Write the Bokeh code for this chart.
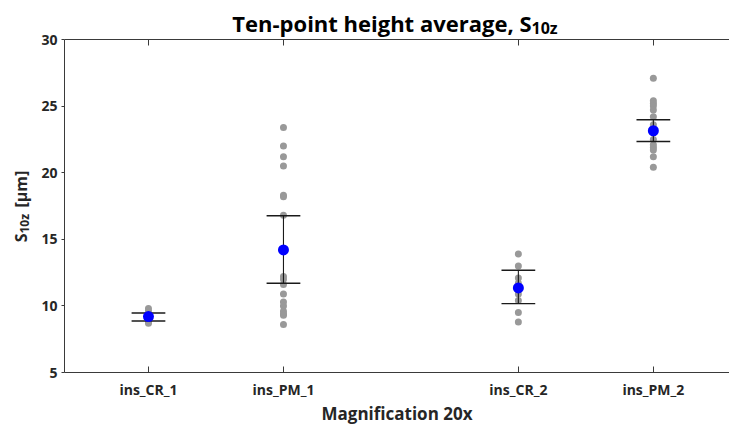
import math
from bokeh.plotting import figure
from bokeh.models import Range1d, FixedTicker, LinearAxis, Label
from bokeh.embed import file_html
from bokeh.resources import INLINE

categories = ["ins_CR_1", "ins_PM_1", "ins_CR_2", "ins_PM_2"]
cat_pos = [1.0, 2.0, 3.74, 4.74]

ins_CR_1 = [9.8, 9.6, 9.5, 9.4, 9.3, 9.2, 9.1, 9.0, 8.9, 8.8, 8.7]
ins_PM_1 = [23.4, 22.0, 21.2, 20.5, 18.3, 18.2, 16.8, 12.2, 12.0, 11.6, 10.9,
            10.3, 10.0, 9.6, 9.4, 9.3, 8.6]
ins_CR_2 = [13.9, 13.0, 12.1, 11.7, 11.2, 10.9, 10.4, 9.5, 8.8]
ins_PM_2 = [27.1, 25.4, 25.2, 25.0, 24.7, 24.2, 23.6, 23.0, 22.5, 22.1, 21.9,
            21.7, 21.2, 20.4]
groups = [ins_CR_1, ins_PM_1, ins_CR_2, ins_PM_2]

means = [9.2, 14.2, 11.35, 23.15]
ci_low = [8.87, 11.7, 10.17, 22.34]
ci_high = [9.47, 16.77, 12.68, 23.98]

y_ticks = [5, 10, 15, 20, 25, 30]

FONT = "Open Sans"
AX = "#3a3a3a"
TXT = "#262626"

# side-panel labels take room; shift the canvas so the frame sits at (64, 39)
SHIFT_X = 23
SHIFT_Y = 13

p = figure(width=729 + SHIFT_X, height=427 + SHIFT_Y, output_backend="svg",
           toolbar_location=None,
           x_range=Range1d(0.378, 5.304), y_range=Range1d(5, 30),
           min_border_left=64, min_border_right=0, min_border_top=39,
           min_border_bottom=55, title=None, margin=(-SHIFT_Y, 0, 0, -SHIFT_X))
p.outline_line_color = None
p.grid.visible = False
p.background_fill_color = "white"
p.border_fill_color = "white"

# points
xs, ys = [], []
for xp, g in zip(cat_pos, groups):
    xs += [xp] * len(g)
    ys += g
p.scatter(xs, ys, size=7, color="#999999", line_color=None)

# error bars
cap = 0.125
p.segment(x0=cat_pos, y0=ci_low, x1=cat_pos, y1=ci_high, line_color="#1a1a1a", line_width=1.1)
p.segment(x0=[x - cap for x in cat_pos], y0=ci_low, x1=[x + cap for x in cat_pos], y1=ci_low,
          line_color="#1a1a1a", line_width=1.4)
p.segment(x0=[x - cap for x in cat_pos], y0=ci_high, x1=[x + cap for x in cat_pos], y1=ci_high,
          line_color="#1a1a1a", line_width=1.4)
p.scatter(cat_pos, means, size=11, color="#0000ff", line_color=None)

# axes
xa = p.xaxis[0]
xa.ticker = FixedTicker(ticks=cat_pos)
xa.major_label_overrides = {cp: c for cp, c in zip(cat_pos, categories)}
xa.axis_label = "Magnification 20x"
ya = p.yaxis[0]
ya.ticker = FixedTicker(ticks=y_ticks)

for ax in (xa, ya):
    ax.axis_line_color = AX
    ax.major_tick_line_color = AX
    ax.minor_tick_line_color = None
    ax.major_label_text_font = FONT
    ax.major_label_text_font_style = "bold"
    ax.major_label_text_font_size = "14px"
    ax.major_label_text_color = TXT
    ax.axis_label_text_font = FONT
    ax.axis_label_text_font_style = "bold"
    ax.axis_label_text_font_size = "17px"
    ax.axis_label_text_color = TXT

xa.major_tick_in = 6
xa.major_tick_out = 0
xa.major_label_standoff = 7
xa.axis_label_standoff = 0
ya.major_tick_in = 0
ya.major_tick_out = 3
ya.major_label_standoff = 4

top = LinearAxis(ticker=FixedTicker(ticks=cat_pos), major_label_text_font_size="0px",
                 axis_line_color=AX, major_tick_line_color=AX, minor_tick_line_color=None,
                 major_tick_in=6, major_tick_out=0)
top.major_label_overrides = {cp: "" for cp in cat_pos}
p.add_layout(top, "above")


def lab(place, sx, sy, **kw):
    # sx, sy: position in the visible window (origin top-left)
    base = dict(x=sx + SHIFT_X, y=sy + SHIFT_Y, x_units="canvas", y_units="canvas",
                text_baseline="alphabetic", text_font=FONT, text_font_style="bold")
    base.update(kw)
    p.add_layout(Label(**base), place)


# title with subscript
lab("above", 531, 22, text="Ten-point height average, S", text_align="right",
    text_font_size="22px", text_color="#000000")
lab("above", 531, 27, text="10z", text_align="left", text_font_size="16px",
    text_color="#000000")

# y axis label with subscript (rotated)
lab("left", 20, 233, angle=math.pi / 2, text="S", text_align="right",
    text_font_size="16px", text_color=TXT)
lab("left", 24, 233, angle=math.pi / 2, text="10z", text_align="left",
    text_font_size="12px", text_color=TXT)
lab("left", 20, 207, angle=math.pi / 2, text="[μm]", text_align="left",
    text_font_size="16px", text_color=TXT)

open("out.html", "w").write(file_html(p, INLINE))
